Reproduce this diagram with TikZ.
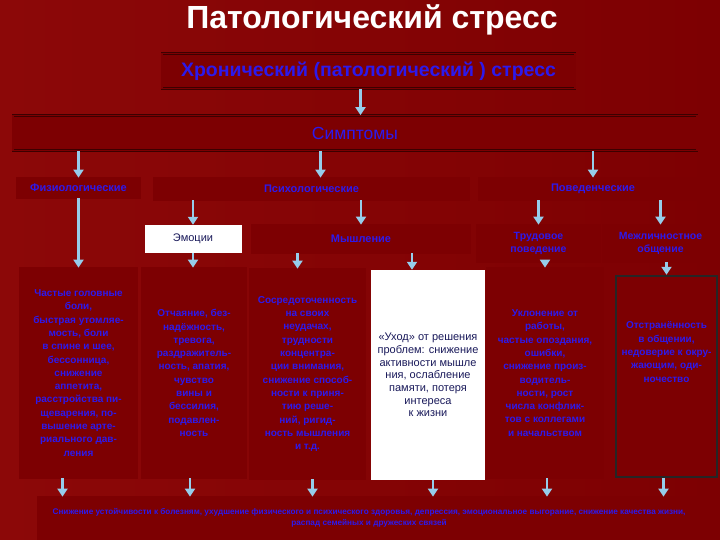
\documentclass[tikz,border=0pt]{standalone}
\usepackage{fontspec}
\setmainfont{Liberation Sans}
\usetikzlibrary{arrows.meta}

\definecolor{bgred}{RGB}{125,0,2}
\definecolor{bglight}{RGB}{140,8,8}
\definecolor{boxline}{RGB}{60,0,0}
\definecolor{txtblue}{RGB}{45,25,235}
\definecolor{arrblue}{RGB}{150,205,235}
\definecolor{navy}{RGB}{25,25,90}

\begin{document}
\begin{tikzpicture}[x=1pt,y=-1pt,
    rbox/.style={draw=boxline, double=bgred, double distance=1.2pt, line width=0.8pt,
      fill=bgred, inner sep=2pt, align=center, text=txtblue},
    wbox/.style={fill=white, inner sep=2pt, align=center, text=navy},
    fbox/.style={draw=black!85, line width=2.5pt, fill=bgred},
    arr/.style={draw=arrblue, line width=2.6pt, -{Triangle[width=10pt,length=8pt]}},
    head/.style={font=\fontsize{11}{13}\selectfont\bfseries},
    body/.style={font=\fontsize{10}{13.3}\selectfont\bfseries}]

    \useasboundingbox (0,0) rectangle (720,540);
    \shade[left color=bglight, right color=bgred] (0,0) rectangle (720,540);

    \node[text=white, font=\fontsize{32}{34}\selectfont\bfseries] (title) at (372,20) {Патологический стресс};

    \node[rbox, minimum width=413pt, minimum height=35pt, font=\fontsize{19.5}{21}\selectfont\bfseries] (chron) at (368.5,71) {Хронический (патологический ) стресс};
    \node[rbox, minimum width=684pt, minimum height=35pt, font=\fontsize{17.5}{19}\selectfont] (symp) at (355,133) {Симптомы};

    % row of three kinds of symptoms
    \node[rbox, head, minimum width=123pt, minimum height=20pt] (fiz) at (78.5,188) {Физиологические};
    \node[rbox, head, minimum width=315pt, minimum height=22pt] (psy) at (311.5,189) {Психологические};
    \node[rbox, head, minimum width=228pt, minimum height=22pt] (beh) at (593,189) {Поведенческие};

    \node[wbox, font=\fontsize{11}{13}\selectfont, minimum width=97pt, minimum height=28pt] (emo) at (193,239) {Эмоции};
    \node[rbox, head, minimum width=218pt, minimum height=28pt] (mys) at (361,239) {Мышление};
    \node[rbox, font=\fontsize{10.5}{13}\selectfont\bfseries, minimum width=123pt, minimum height=37pt] (work) at (538.5,243.5) {Трудовое\\поведение};
    \node[rbox, font=\fontsize{10.5}{13}\selectfont\bfseries, minimum width=115pt, minimum height=37pt] (soc) at (660.5,243.5) {Межличностное\\общение};

    % detailed boxes
    \node[rbox, body, minimum width=117pt, minimum height=210pt] (phys) at (78.5,373) {Частые головные\\боли,\\быстрая утомляе-\\мость, боли\\в спине и шее,\\бессонница,\\снижение\\аппетита,\\расстройства пи-\\щеварения, по-\\вышение арте-\\риального дав-\\ления};
    \node[rbox, body, minimum width=104pt, minimum height=210pt] (emot) at (194,373) {Отчаяние, без-\\надёжность,\\тревога,\\раздражитель-\\ность, апатия,\\чувство\\вины и\\бессилия,\\подавлен-\\ность};
    \node[rbox, body, minimum width=115pt, minimum height=210pt] (think) at (307.5,374) {Сосредоточенность\\на своих\\неудачах,\\трудности\\концентра-\\ции внимания,\\снижение способ-\\ности к приня-\\тию реше-\\ний, ригид-\\ность мышления\\и т.д.};
    \node[wbox, font=\fontsize{11}{12.7}\selectfont, minimum width=114pt, minimum height=210pt] (quit) at (428,375) {«Уход» от решения\\проблем: снижение\\активности мышле\\ния, ослабление\\памяти, потеря\\интереса\\к жизни};
    \node[rbox, body, minimum width=116pt, minimum height=210pt] (job) at (545,373) {Уклонение от\\работы,\\частые опоздания,\\ошибки,\\снижение произ-\\водитель-\\ности, рост\\числа конфлик-\\тов с коллегами\\и начальством};
    \node[fbox, minimum width=101pt, minimum height=201pt] (comm) at (666.5,376.5) {};
    \node[body, text=txtblue, align=center] (commtxt) at (666.5,352) {Отстранённость\\в общении,\\недоверие к окру-\\жающим, оди-\\ночество};

    \node[rbox, font=\fontsize{8.2}{11.5}\selectfont\bfseries, minimum width=662pt, minimum height=42pt] (res) at (369,518) {Снижение устойчивости к болезням, ухудшение физического и психического здоровья, депрессия, эмоциональное выгорание, снижение качества жизни,\\распад семейных и дружеских связей};

    % arrows
    \coordinate (c0) at ([xshift=-8pt]chron.south);
    \draw[arr] (c0) -- (c0 |- symp.north);
    \draw[arr] (symp.south -| fiz) -- (fiz.north);
    \coordinate (c1) at ([xshift=9pt]psy.north);
    \draw[arr] (symp.south -| c1) -- (c1);
    \draw[arr] (symp.south -| beh) -- (beh.north);

    \draw[arr] (fiz.south) -- (fiz.south |- phys.north);
    \draw[arr] (psy.south -| emo) -- (emo.north);
    \draw[arr] (psy.south -| mys) -- (mys.north);
    \draw[arr] (beh.south -| work) -- (work.north);
    \draw[arr] (beh.south -| soc) -- (soc.north);

    \draw[arr] (emo.south) -- (emo.south |- emot.north);
    \coordinate (c2) at ([xshift=-10pt]think.north);
    \draw[arr] (mys.south -| c2) -- (c2);
    \coordinate (c3) at ([xshift=-16pt]quit.north);
    \draw[arr] (mys.south -| c3) -- (c3);
    \draw[arr] (work.south -| job) -- (job.north);
    \draw[arr] (soc.south -| comm) -- (comm.north);

    \foreach \n/\s in {phys/-16, emot/-4, think/5, quit/5, job/2, comm/-3} {
        \coordinate (t) at ([xshift=\s pt]\n.south);
        \draw[arr] (t) -- (t |- res.north);
    }
\end{tikzpicture}
\end{document}
